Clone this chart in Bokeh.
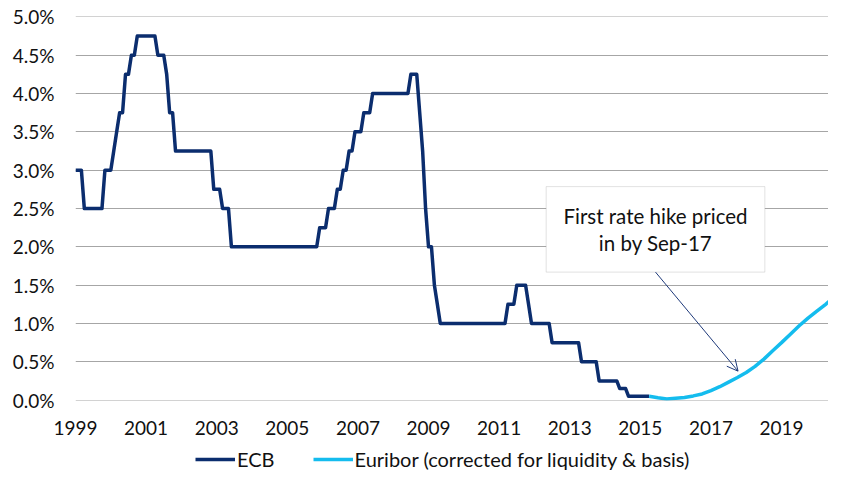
from bokeh.plotting import figure
from bokeh.layouts import column
from bokeh.models import (Range1d, FixedTicker, PrintfTickFormatter, Legend, LegendItem,
                          BoxAnnotation, Label, Arrow, OpenHead, ColumnDataSource)
from bokeh.embed import file_html
from bokeh.resources import INLINE

# ---------------- data ----------------
ecb_start_year = 1999
# ECB main refinancing rate (%), monthly, Jan 1999 .. Apr 2015
ecb_1999 = [3.0, 3.0, 3.0, 2.5, 2.5, 2.5, 2.5, 2.5, 2.5, 2.5, 3.0, 3.0]
ecb_2000 = [3.0, 3.25, 3.5, 3.75, 3.75, 4.25, 4.25, 4.5, 4.5, 4.75, 4.75, 4.75]
ecb_2001 = [4.75, 4.75, 4.75, 4.75, 4.5, 4.5, 4.5, 4.25, 3.75, 3.75, 3.25, 3.25]
ecb_2002 = [3.25, 3.25, 3.25, 3.25, 3.25, 3.25, 3.25, 3.25, 3.25, 3.25, 3.25, 2.75]
ecb_2003 = [2.75, 2.75, 2.5, 2.5, 2.5, 2.0, 2.0, 2.0, 2.0, 2.0, 2.0, 2.0]
ecb_2004 = [2.0, 2.0, 2.0, 2.0, 2.0, 2.0, 2.0, 2.0, 2.0, 2.0, 2.0, 2.0]
ecb_2005 = [2.0, 2.0, 2.0, 2.0, 2.0, 2.0, 2.0, 2.0, 2.0, 2.0, 2.0, 2.25]
ecb_2006 = [2.25, 2.25, 2.5, 2.5, 2.5, 2.75, 2.75, 3.0, 3.0, 3.25, 3.25, 3.5]
ecb_2007 = [3.5, 3.5, 3.75, 3.75, 3.75, 4.0, 4.0, 4.0, 4.0, 4.0, 4.0, 4.0]
ecb_2008 = [4.0, 4.0, 4.0, 4.0, 4.0, 4.0, 4.25, 4.25, 4.25, 3.75, 3.25, 2.5]
ecb_2009 = [2.0, 2.0, 1.5, 1.25, 1.0, 1.0, 1.0, 1.0, 1.0, 1.0, 1.0, 1.0]
ecb_2010 = [1.0, 1.0, 1.0, 1.0, 1.0, 1.0, 1.0, 1.0, 1.0, 1.0, 1.0, 1.0]
ecb_2011 = [1.0, 1.0, 1.0, 1.25, 1.25, 1.25, 1.5, 1.5, 1.5, 1.5, 1.25, 1.0]
ecb_2012 = [1.0, 1.0, 1.0, 1.0, 1.0, 1.0, 0.75, 0.75, 0.75, 0.75, 0.75, 0.75]
ecb_2013 = [0.75, 0.75, 0.75, 0.75, 0.5, 0.5, 0.5, 0.5, 0.5, 0.5, 0.25, 0.25]
ecb_2014 = [0.25, 0.25, 0.25, 0.25, 0.25, 0.15, 0.15, 0.15, 0.05, 0.05, 0.05, 0.05]
ecb_2015 = [0.05, 0.05, 0.05, 0.05]

ecb_rates = (ecb_1999 + ecb_2000 + ecb_2001 + ecb_2002 + ecb_2003 + ecb_2004 + ecb_2005 +
             ecb_2006 + ecb_2007 + ecb_2008 + ecb_2009 + ecb_2010 + ecb_2011 + ecb_2012 +
             ecb_2013 + ecb_2014 + ecb_2015)
ecb_x = [ecb_start_year + i / 12 for i in range(len(ecb_rates))]

# Euribor forward path (corrected for liquidity & basis), %, quarterly
eur_x = [2015.25, 2015.50, 2015.75, 2016.00, 2016.25, 2016.50, 2016.75, 2017.00, 2017.25,
         2017.50, 2017.75, 2018.00, 2018.25, 2018.50, 2018.75, 2019.00, 2019.25, 2019.50,
         2019.75, 2020.00, 2020.25, 2020.35]
eur_rates = [0.05, 0.03, 0.015, 0.025, 0.035, 0.055, 0.08, 0.125, 0.175, 0.235, 0.295,
             0.36, 0.44, 0.535, 0.645, 0.75, 0.86, 0.97, 1.07, 1.16, 1.25, 1.29]

x_tick_years = [1999, 2001, 2003, 2005, 2007, 2009, 2011, 2013, 2015, 2017, 2019]
y_ticks = [0.0, 0.5, 1.0, 1.5, 2.0, 2.5, 3.0, 3.5, 4.0, 4.5, 5.0]

series_names = ["ECB", "Euribor (corrected for liquidity & basis)"]
annotation_lines = ["First rate hike priced", "in by Sep-17"]

# ---------------- styling ----------------
FONT = "Lato"
ECB_COLOR = "#0B2D6E"
EUR_COLOR = "#14BCEE"
GRID_COLOR = "#A6A6A6"
TEXT_COLOR = "#111111"

p = figure(width=828, height=443, output_backend="svg", toolbar_location=None,
           x_range=Range1d(1999, 2020.33), y_range=Range1d(-0.005, 5.005),
           min_border_left=75, min_border_right=0, min_border_top=16, min_border_bottom=43)
p.outline_line_color = None
p.background_fill_color = "white"
p.border_fill_color = "white"

p.xgrid.grid_line_color = None
p.ygrid.grid_line_color = GRID_COLOR
p.ygrid.grid_line_width = 1
p.ygrid.ticker = FixedTicker(ticks=y_ticks)

p.xaxis.ticker = FixedTicker(ticks=x_tick_years)
p.xaxis.formatter = PrintfTickFormatter(format="%d")
p.yaxis.ticker = FixedTicker(ticks=y_ticks)
p.yaxis.formatter = PrintfTickFormatter(format="%.1f%%")
for ax in (p.xaxis, p.yaxis):
    ax.axis_line_color = None
    ax.major_tick_line_color = None
    ax.minor_tick_line_color = None
    ax.major_tick_out = 0
    ax.major_tick_in = 0
    ax.major_label_text_font = FONT
    ax.major_label_text_font_size = "19px"
    ax.major_label_text_color = TEXT_COLOR
p.yaxis.major_label_standoff = 21
p.xaxis.major_label_standoff = 20

src_ecb = ColumnDataSource(dict(x=ecb_x, y=ecb_rates))
src_eur = ColumnDataSource(dict(x=eur_x, y=eur_rates))
p.line("x", "y", source=src_ecb, line_color=ECB_COLOR, line_width=3.5, line_join="round")
p.line("x", "y", source=src_eur, line_color=EUR_COLOR, line_width=3.5, line_join="round")

# annotation box
box = BoxAnnotation(left=2012.333, right=2018.527, bottom=1.67, top=2.786,
                    fill_color="white", fill_alpha=1.0, line_color="#A0A0A0", line_width=1)
p.add_layout(box)
for txt, yy in zip(annotation_lines, [2.400, 2.053]):
    p.add_layout(Label(x=2015.43, y=yy, text=txt, text_align="center", text_baseline="middle",
                       text_font=FONT, text_font_size="20.5px", text_color=TEXT_COLOR))

arrow = Arrow(x_start=2015.43, y_start=1.67, x_end=2017.768, y_end=0.378,
              line_color="#1F3A7A", line_width=1,
              end=OpenHead(size=11, line_color="#1F3A7A", line_width=1))
p.add_layout(arrow)

# ---------------- legend strip (separate small figure) ----------------
lg = figure(width=828, height=28, output_backend="svg", toolbar_location=None,
            x_range=Range1d(0, 1), y_range=Range1d(1000, 1001),
            min_border_left=0, min_border_right=0, min_border_top=0, min_border_bottom=0)
lg.axis.visible = False
lg.grid.visible = False
lg.outline_line_color = None
lg.background_fill_color = "white"
lg.border_fill_color = "white"
l_ecb = lg.line("x", "y", source=src_ecb, line_color=ECB_COLOR, line_width=3.5)
l_eur = lg.line("x", "y", source=src_eur, line_color=EUR_COLOR, line_width=3.5)

legend = Legend(items=[LegendItem(label=series_names[0], renderers=[l_ecb]),
                       LegendItem(label=series_names[1], renderers=[l_eur])],
                orientation="horizontal", location=(120, 0),
                glyph_width=40, glyph_height=20, label_height=20, label_standoff=2, spacing=38,
                padding=0, margin=0, border_line_alpha=0, background_fill_alpha=0,
                label_text_font=FONT, label_text_font_size="20px", label_text_color=TEXT_COLOR)
lg.add_layout(legend, "center")

open("out.html", "w").write(file_html(column(p, lg), INLINE))
